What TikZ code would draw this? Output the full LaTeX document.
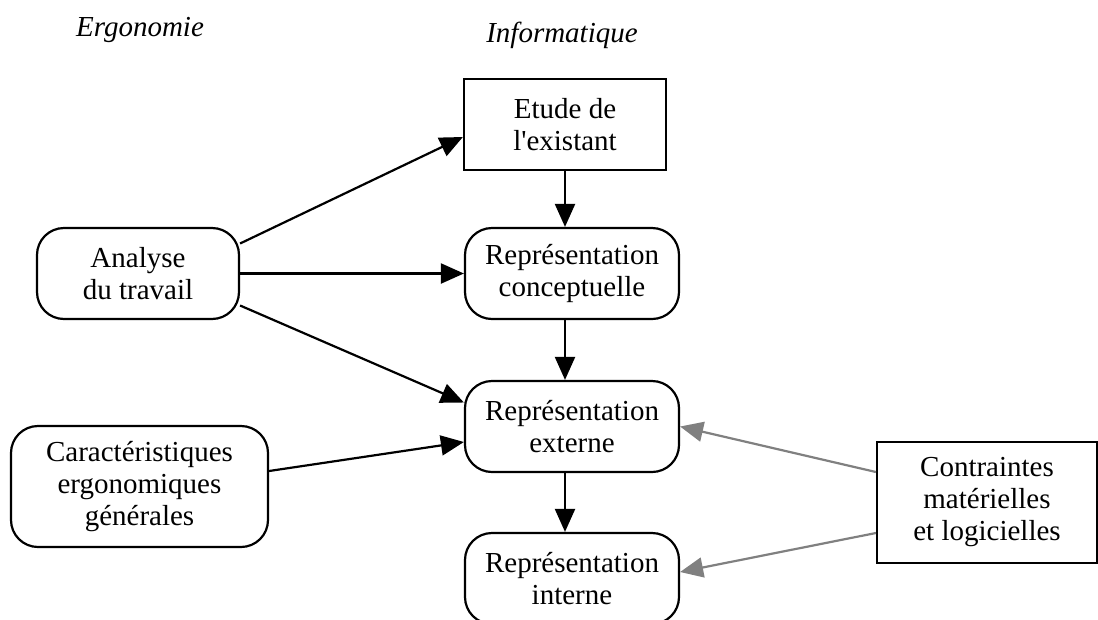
\documentclass[tikz,border=0pt]{standalone}
\usepackage{fontspec}
\setmainfont{Liberation Serif}
\usetikzlibrary{arrows.meta}

\tikzset{
  txt/.style={font=\fontsize{29}{32}\selectfont, align=center, inner sep=0pt},
  sqbox/.style={txt, draw, line width=2.2pt, rectangle},
  rbox/.style={txt, draw, line width=2.2pt, rectangle, rounded corners=27pt},
  flow/.style={line width=2.2pt, -{Triangle[length=23pt,width=20pt]}},
  soft/.style={flow, draw=grey}
}
\definecolor{grey}{RGB}{128,128,128}

\begin{document}
\begin{tikzpicture}[x=1pt,y=-1pt]
\clip (0,0) rectangle (1098,619);

% column headings
\node[txt, font=\fontsize{29}{31}\selectfont\itshape] (ergo) at (140,30) {Ergonomie};
\node[txt, font=\fontsize{29}{31}\selectfont\itshape] (info) at (562,35) {Informatique};

% boxes
\node[sqbox, minimum width=202pt, minimum height=91pt] (etude) at (565,124.5) {Etude de\\l\textquotesingle existant};
\node[rbox, minimum width=214pt, minimum height=91pt] (concept) at (572,273.5) {Représentation\\conceptuelle};
\node[rbox, minimum width=214pt, minimum height=91pt] (externe) at (572,426.5) {Représentation\\externe};
\node[rbox, minimum width=214pt, minimum height=91pt] (interne) at (572,578.5) {Représentation\\interne};
\node[rbox, minimum width=202pt, minimum height=91pt] (analyse) at (138,273.5) {Analyse\\du travail};
\node[rbox, minimum width=257pt, minimum height=121pt] (caract) at (139.5,486.5) {Caractéristiques\\ergonomiques\\générales};
\node[sqbox, minimum width=220pt, minimum height=121pt] (contr) at (987,502.5) {Contraintes\\matérielles\\et logicielles};

% vertical chain
\draw[flow] (etude.south) -- (etude.south |- concept.north);
\draw[flow] (etude.south |- concept.south) -- (etude.south |- externe.north);
\draw[flow] (etude.south |- externe.south) -- (etude.south |- interne.north);

% from work analysis
\draw[flow] ([yshift=30pt]analyse.east) -- ([yshift=-12.5pt]etude.west);
\draw[flow] (analyse.east) -- (concept.west);
\draw[flow] ([yshift=-32pt]analyse.east) -- ([yshift=24pt]externe.west);

% from general characteristics
\draw[flow] ([yshift=15.5pt]caract.east) -- ([yshift=-15.5pt]externe.west);

% constraints
\draw[soft] ([yshift=30.5pt]contr.west) -- (externe.east);
\draw[soft] ([yshift=-30.5pt]contr.west) -- ([yshift=6.5pt]interne.east);
\end{tikzpicture}
\end{document}
